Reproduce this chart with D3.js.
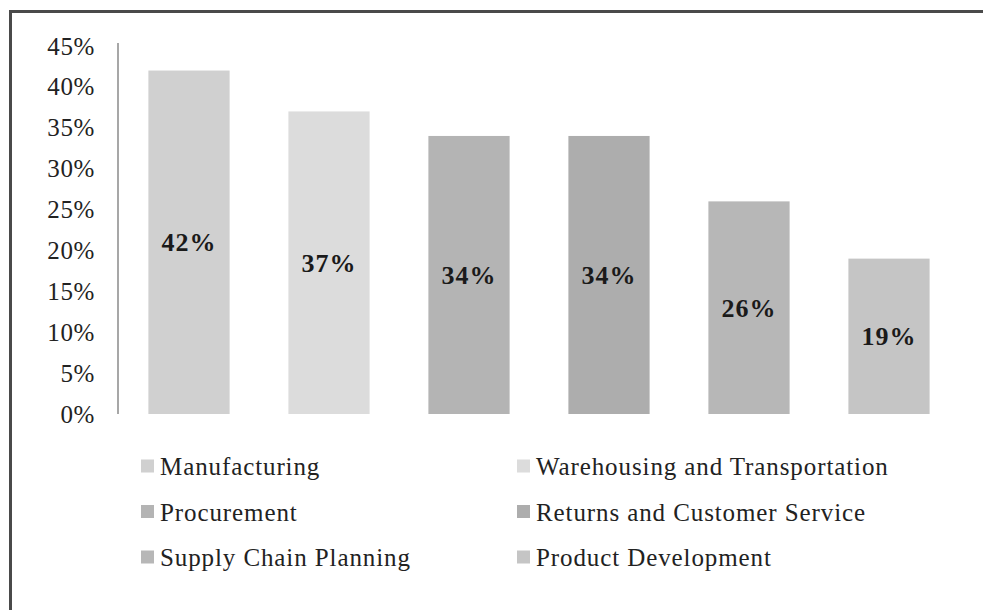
<!DOCTYPE html>
<html>
<head>
<meta charset="utf-8">
<script src="https://cdn.jsdelivr.net/npm/d3@7"></script>
<style>
  body { margin: 0; background: #fff; }
  svg { display: block; font-family: "Liberation Serif", "Times New Roman", serif; }
</style>
</head>
<body>
<div id="chart"></div>
<script>
// data
const categories = ["Manufacturing", "Warehousing and Transportation", "Procurement",
  "Returns and Customer Service", "Supply Chain Planning", "Product Development"];
const values = [42, 37, 34, 34, 26, 19];
const barColors = ["#d0d0d0", "#dcdcdc", "#b4b4b4", "#adadad", "#b7b7b7", "#c5c5c5"];
const yTicks = [0, 5, 10, 15, 20, 25, 30, 35, 40, 45];

const width = 983, height = 610;

const svg = d3.select("#chart")
  .append("svg")
  .attr("width", width)
  .attr("height", height);

// frame: top and left rule only
svg.append("line")
  .attr("x1", 9).attr("x2", width).attr("y1", 11.5).attr("y2", 11.5)
  .attr("stroke", "#4a4a4a").attr("stroke-width", 3);
svg.append("line")
  .attr("x1", 10.5).attr("x2", 10.5).attr("y1", 10).attr("y2", height)
  .attr("stroke", "#4a4a4a").attr("stroke-width", 3);

const x = d3.scaleBand()
  .domain(categories)
  .range([119, 959])
  .paddingInner(0.42)
  .paddingOuter(0.21);

const y = d3.scaleLinear()
  .domain([0, 45])
  .range([414, 46]);

const yAxis = svg.append("g")
  .attr("transform", "translate(118,0)")
  .call(d3.axisLeft(y).tickValues(yTicks).tickSize(0).tickPadding(23).tickFormat(d => d + "%"));

yAxis.select(".domain")
  .attr("stroke", "#8a8a8a")
  .attr("stroke-width", 1.5)
  .attr("d", `M0,${y(0)}V${y(45) - 3}`);

yAxis.selectAll("text")
  .attr("font-family", "Liberation Serif, serif")
  .attr("font-size", 25)
  .attr("letter-spacing", 0.6)
  .attr("fill", "#222");

svg.selectAll(".bar")
  .data(categories)
  .enter()
  .append("rect")
  .attr("class", "bar")
  .attr("x", d => x(d))
  .attr("y", (d, i) => y(values[i]))
  .attr("width", x.bandwidth())
  .attr("height", (d, i) => y(0) - y(values[i]))
  .attr("fill", (d, i) => barColors[i]);

svg.selectAll(".lbl")
  .data(categories)
  .enter()
  .append("text")
  .attr("class", "lbl")
  .attr("x", d => x(d) + x.bandwidth() / 2)
  .attr("y", (d, i) => (y(values[i]) + y(0)) / 2)
  .attr("dy", "0.35em")
  .attr("text-anchor", "middle")
  .attr("font-size", 26)
  .attr("letter-spacing", 1)
  .attr("font-weight", "bold")
  .attr("fill", "#1a1a1a")
  .text((d, i) => values[i] + "%");

// legend, two columns
const legend = svg.selectAll(".legend")
  .data(categories)
  .enter()
  .append("g")
  .attr("class", "legend")
  .attr("transform", (d, i) => `translate(${i % 2 === 0 ? 141 : 517},${466 + Math.floor(i / 2) * 45.5})`);

legend.append("rect")
  .attr("x", 0)
  .attr("y", -6.5)
  .attr("width", 13)
  .attr("height", 13)
  .attr("fill", (d, i) => barColors[i]);

legend.append("text")
  .attr("x", 19)
  .attr("y", 9)
  .attr("font-size", 25)
  .attr("letter-spacing", 0.9)
  .attr("fill", "#222")
  .text(d => d);
</script>
</body>
</html>
